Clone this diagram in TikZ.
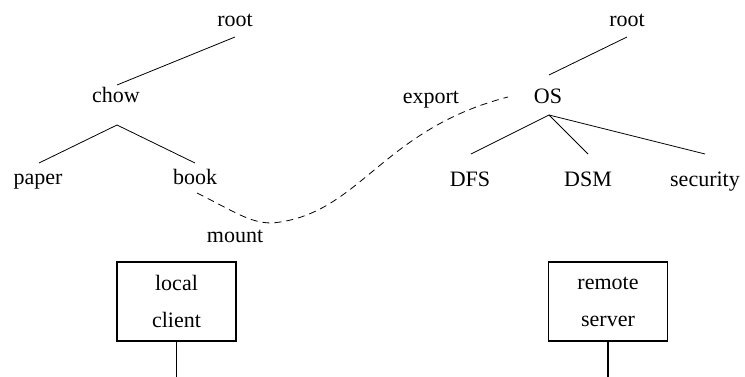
\documentclass[tikz,border=0pt]{standalone}
\usepackage{fontspec}
\setmainfont{Liberation Serif}
\usetikzlibrary{positioning, calc}

\tikzset{
  lbl/.style={font=\fontsize{22}{26}\selectfont, inner sep=0pt, anchor=base},
  edge/.style={line width=0.8pt},
  hostbox/.style={draw, line width=1.2pt, minimum width=119pt, minimum height=79pt, inner sep=0pt, align=center, font=\fontsize{22}{37}\selectfont},
}

\begin{document}
\begin{tikzpicture}[x=1pt, y=-1pt]
  \useasboundingbox (0,0) rectangle (745,377);

  % Left tree
  \node[lbl] (rootL) at (235, 27) {root};
  \node[lbl] (chow) at (116, 103) {chow};
  \node[lbl] (paper) at (38, 185) {paper};
  \node[lbl] (book) at (195, 185) {book};

  \draw[edge] ([yshift=-10pt]rootL.base) -- ([xshift=1pt, yshift=18pt]chow.base);
  \draw[edge] ([xshift=1pt, yshift=-22pt]chow.base) -- ([xshift=1pt, yshift=22pt]paper.base);
  \draw[edge] ([xshift=1pt, yshift=-22pt]chow.base) -- ([yshift=22pt]book.base);

  % Right tree
  \node[lbl] (rootR) at (627, 27) {root};
  \node[lbl] (os) at (548, 104) {OS};
  \node[lbl] (export) at (431, 104) {export};
  \node[lbl] (dfs) at (470, 186) {DFS};
  \node[lbl] (dsm) at (588, 186) {DSM};
  \node[lbl] (security) at (705, 186) {security};

  \draw[edge] ([yshift=-10pt]rootR.base) -- ([xshift=1pt, yshift=29pt]os.base);
  \draw[edge] ([xshift=1pt, yshift=-11pt]os.base) -- ([xshift=1pt, yshift=32pt]dfs.base);
  \draw[edge] ([xshift=1pt, yshift=-11pt]os.base) -- ([yshift=32pt]dsm.base);
  \draw[edge] ([xshift=1pt, yshift=-11pt]os.base) -- ([yshift=32pt]security.base);

  % Mount link
  \node[lbl] (mount) at (235, 243) {mount};
  \coordinate (dip) at (272, 223);
  \draw[edge, dash pattern=on 7pt off 5pt] ([xshift=2pt, yshift=-8pt]book.base)
    .. controls (235, 212) and (250, 223) .. (dip)
    .. controls (360, 215) and (380, 130) .. ([xshift=-40pt, yshift=7pt]os.base);

  % Hosts
  \node[hostbox] (client) at (176.5, 301.5) {local\\client};
  \node[hostbox] (server) at (608, 301.5) {remote\\server};
  \coordinate (clientEnd) at (176.5, 377);
  \coordinate (serverEnd) at (608, 377);
  \draw[line width=1.2pt] (client.south) -- (clientEnd);
  \draw[line width=1.2pt] (server.south) -- (serverEnd);
\end{tikzpicture}
\end{document}
